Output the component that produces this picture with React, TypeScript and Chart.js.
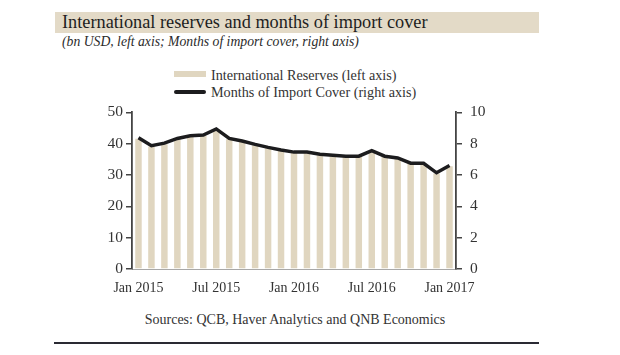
import React, { useEffect, useRef } from "react";
import { Chart, registerables } from "chart.js";

Chart.register(...registerables);

const categories = [
  "Jan 2015", "Feb 2015", "Mar 2015", "Apr 2015", "May 2015", "Jun 2015",
  "Jul 2015", "Aug 2015", "Sep 2015", "Oct 2015", "Nov 2015", "Dec 2015",
  "Jan 2016", "Feb 2016", "Mar 2016", "Apr 2016", "May 2016", "Jun 2016",
  "Jul 2016", "Aug 2016", "Sep 2016", "Oct 2016", "Nov 2016", "Dec 2016",
  "Jan 2017",
];

const reserves = [
  41.6, 39.1, 39.8, 41.4, 42.2, 42.4, 44.4, 41.4, 40.6, 39.5, 38.5, 37.7,
  37.0, 37.0, 36.3, 36.0, 35.7, 35.7, 37.5, 35.7, 35.2, 33.5, 33.5, 30.5,
  32.8,
];

const importCover = [
  8.37, 7.87, 8.03, 8.33, 8.5, 8.55, 8.94, 8.33, 8.17, 7.95, 7.76, 7.6,
  7.46, 7.46, 7.32, 7.26, 7.2, 7.2, 7.56, 7.2, 7.09, 6.75, 6.75, 6.14,
  6.6,
];

const leftTicks = [0, 10, 20, 30, 40, 50];
const rightTicks = [0, 2, 4, 6, 8, 10];

const TITLE = "International reserves and months of import cover";
const SUBTITLE = "(bn USD, left axis; Months of import cover, right axis)";
const LEGEND_BARS = "International Reserves (left axis)";
const LEGEND_LINE = "Months of Import Cover (right axis)";
const SOURCES = "Sources: QCB, Haver Analytics and QNB Economics";

const SERIF = "'Liberation Serif', 'DejaVu Serif', serif";
const BAR_COLOR = "#e0d6c0";
const LINE_COLOR = "#1c1c1e";
const AXIS_COLOR = "#444444";
const TEXT_COLOR = "#333333";

export default function App() {
  const canvasRef = useRef<HTMLCanvasElement | null>(null);

  useEffect(() => {
    if (!canvasRef.current) return;
    const chart = new Chart(canvasRef.current, {
      type: "bar",
      data: {
        labels: categories,
        datasets: [
          {
            type: "line",
            label: LEGEND_LINE,
            data: importCover,
            yAxisID: "yRight",
            borderColor: LINE_COLOR,
            backgroundColor: LINE_COLOR,
            borderWidth: 3.5,
            pointRadius: 0,
            tension: 0,
            order: 0,
          } as any,
          {
            type: "bar",
            label: LEGEND_BARS,
            data: reserves,
            yAxisID: "yLeft",
            backgroundColor: BAR_COLOR,
            borderWidth: 0,
            barPercentage: 0.5,
            categoryPercentage: 1,
            order: 1,
          } as any,
        ],
      },
      options: {
        animation: false,
        responsive: false,
        maintainAspectRatio: false,
        layout: { padding: { top: 10, left: 0, right: 0, bottom: 0 } },
        plugins: {
          legend: { display: false },
          tooltip: { enabled: false },
          title: { display: false },
        },
        scales: {
          x: {
            offset: true,
            grid: { display: false, drawTicks: false },
            border: { display: true, color: "#a8a8a8", width: 1 },
            ticks: {
              autoSkip: false,
              maxRotation: 0,
              minRotation: 0,
              padding: 11,
              color: TEXT_COLOR,
              font: { family: SERIF, size: 14 },
              callback: (_v: any, i: number) => (i % 6 === 0 ? categories[i] : ""),
            },
            afterFit: (s: any) => {
              s.height = 31;
            },
          },
          yLeft: {
            position: "left",
            min: 0,
            max: 50,
            afterBuildTicks: (s: any) => {
              s.ticks = leftTicks.map((v) => ({ value: v }));
            },
            grid: {
              drawOnChartArea: false,
              drawTicks: true,
              tickLength: 6,
              color: AXIS_COLOR,
              lineWidth: 1.5,
            },
            border: { display: true, color: AXIS_COLOR, width: 1.8 },
            ticks: {
              padding: 3,
              color: TEXT_COLOR,
              font: { family: SERIF, size: 15.5 },
            },
            afterFit: (s: any) => {
              s.width = 42;
            },
          },
          yRight: {
            position: "right",
            min: 0,
            max: 10,
            afterBuildTicks: (s: any) => {
              s.ticks = rightTicks.map((v) => ({ value: v }));
            },
            grid: {
              drawOnChartArea: false,
              drawTicks: true,
              tickLength: 6,
              color: AXIS_COLOR,
              lineWidth: 1.5,
            },
            border: { display: true, color: AXIS_COLOR, width: 1.8 },
            ticks: {
              padding: 8,
              color: TEXT_COLOR,
              font: { family: SERIF, size: 15.5 },
            },
            afterFit: (s: any) => {
              s.width = 44;
            },
          },
        },
      } as any,
    });
    return () => chart.destroy();
  }, []);

  return (
    <div
      style={{
        position: "absolute",
        left: 0,
        top: 0,
        width: 620,
        height: 355,
        background: "#ffffff",
        fontFamily: SERIF,
        color: TEXT_COLOR,
        overflow: "hidden",
      }}
    >
      <div
        style={{
          position: "absolute",
          left: 55,
          top: 12,
          width: 484,
          height: 21,
          background: "#e3dac7",
        }}
      />
      <div
        style={{
          position: "absolute",
          left: 62,
          top: 11,
          fontSize: 18.3,
          lineHeight: "22px",
          color: "#1e1e1e",
          whiteSpace: "nowrap",
        }}
      >
        {TITLE}
      </div>
      <div
        style={{
          position: "absolute",
          left: 62,
          top: 34,
          fontSize: 13.7,
          lineHeight: "16px",
          fontStyle: "italic",
          color: "#2a2a2a",
          whiteSpace: "nowrap",
        }}
      >
        {SUBTITLE}
      </div>
      <div
        style={{
          position: "absolute",
          left: 174,
          top: 71,
          width: 32,
          height: 6,
          background: BAR_COLOR,
        }}
      />
      <div
        style={{
          position: "absolute",
          left: 211,
          top: 66,
          fontSize: 14.2,
          lineHeight: "18px",
          whiteSpace: "nowrap",
        }}
      >
        {LEGEND_BARS}
      </div>
      <div
        style={{
          position: "absolute",
          left: 174,
          top: 90,
          width: 32,
          height: 4,
          borderRadius: 2,
          background: LINE_COLOR,
        }}
      />
      <div
        style={{
          position: "absolute",
          left: 211,
          top: 83,
          fontSize: 14.2,
          lineHeight: "18px",
          whiteSpace: "nowrap",
        }}
      >
        {LEGEND_LINE}
      </div>
      <canvas
        ref={canvasRef}
        width={410}
        height={205}
        style={{ position: "absolute", left: 90, top: 95, width: 410, height: 205 }}
      />
      <div
        style={{
          position: "absolute",
          left: 0,
          width: 620,
          top: 311,
          textAlign: "center",
          fontSize: 14,
          lineHeight: "18px",
          whiteSpace: "nowrap",
        }}
      >
        <span style={{ position: "relative", left: -15 }}>{SOURCES}</span>
      </div>
      <div
        style={{
          position: "absolute",
          left: 54,
          top: 342,
          width: 485,
          height: 2,
          background: "#2a2a33",
        }}
      />
    </div>
  );
}
